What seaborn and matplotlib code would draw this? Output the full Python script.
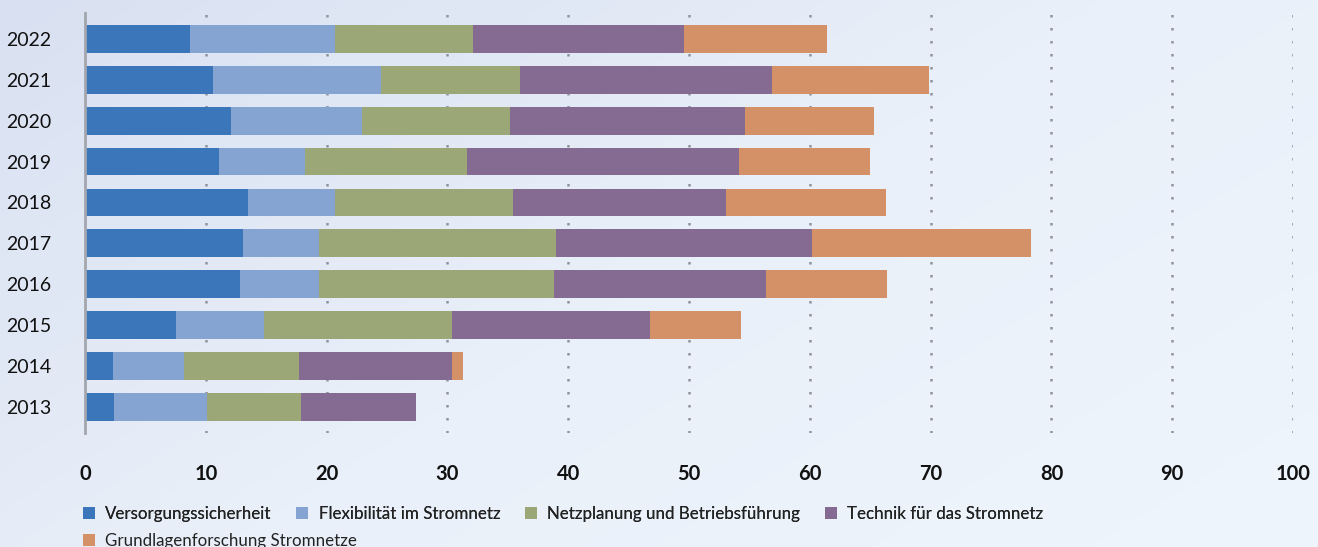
import numpy as np
import pandas as pd
import matplotlib
matplotlib.use("Agg")
import matplotlib.pyplot as plt
import seaborn as sns
from matplotlib.colors import LinearSegmentedColormap
from matplotlib.patches import Patch

years = ["2022", "2021", "2020", "2019", "2018", "2017", "2016", "2015", "2014", "2013"]
series_names = ["Versorgungssicherheit", "Flexibilität im Stromnetz",
                "Netzplanung und Betriebsführung", "Technik für das Stromnetz",
                "Grundlagenforschung Stromnetze"]
versorgung   = [8.7, 10.6, 12.1, 11.1, 13.5, 13.1, 12.8, 7.5, 2.3, 2.4]
flexibilitaet = [12.0, 13.9, 10.8, 7.1, 7.2, 6.3, 6.6, 7.3, 5.9, 7.7]
netzplanung  = [11.4, 11.5, 12.3, 13.4, 14.7, 19.6, 19.4, 15.6, 9.5, 7.8]
technik      = [17.5, 20.9, 19.4, 22.5, 17.7, 21.2, 17.6, 16.4, 12.7, 9.5]
grundlagen   = [11.8, 13.0, 10.7, 10.9, 13.2, 18.1, 10.0, 7.5, 0.9, 0.0]
colors = ["#3b76ba", "#86a4d2", "#9ba776", "#856a91", "#d49066"]
x_ticks = [0, 10, 20, 30, 40, 50, 60, 70, 80, 90, 100]

sns.set_theme(style="white")
plt.rcParams['font.family'] = ['Lato', 'DejaVu Sans']

W, H = 1318, 547
fig = plt.figure(figsize=(W / 100, H / 100), dpi=100)

# gradient background
bg = fig.add_axes([0, 0, 1, 1], zorder=-10)
yy, xx = np.mgrid[0:1:200j, 0:1:400j]
grad = (xx * 0.6 + yy * 0.4)
cmap = LinearSegmentedColormap.from_list("bg", ["#d9e0f1", "#e9f0f9", "#eef5fc"])
bg.imshow(grad, cmap=cmap, aspect="auto", extent=[0, 1, 0, 1], origin="upper")
bg.axis("off")

ax = fig.add_axes([85 / W, 1 - 433 / H, (1293 - 85) / W, (433 - 12.7) / H])
ax.patch.set_alpha(0)

df = pd.DataFrame({"Jahr": years})
series = [versorgung, flexibilitaet, netzplanung, technik, grundlagen]
cum = np.cumsum(np.array(series), axis=0)
for i in range(len(series) - 1, -1, -1):
    df["v"] = cum[i]
    sns.barplot(data=df, y="Jahr", x="v", order=years, orient="h",
                color=colors[i], saturation=1, width=0.68, ax=ax, zorder=3,
                edgecolor="none", linewidth=0)

ax.set_xlim(0, 100)
ax.set_ylim(9.64, -0.64)
ax.set_xticks(x_ticks)
ax.set_xticklabels([str(t) for t in x_ticks], fontsize=14.5, fontweight="bold", color="#111111")
ax.tick_params(axis="x", length=0, pad=22)
ax.tick_params(axis="y", length=0, pad=24, labelsize=14, labelcolor="#111111")
ax.set_xlabel("")
ax.set_ylabel("")
for s in ["top", "right", "bottom"]:
    ax.spines[s].set_visible(False)
ax.spines["left"].set_color("#a3a6ad")
ax.spines["left"].set_linewidth(2)
ax.spines["left"].set_zorder(4)
ax.grid(False)
for t in x_ticks[1:]:
    ax.axvline(t, color="#8f939d", linestyle=(0, (1, 4.2)), linewidth=1.8, zorder=1)

handles = [Patch(facecolor=c, edgecolor="none") for c in colors]
leg1 = fig.legend(handles[:4], series_names[:4], loc="upper left",
                  bbox_to_anchor=(76 / W, 1 - 499 / H), ncol=4, frameon=False,
                  fontsize=12.2, handlelength=0.72, handleheight=0.72,
                  handletextpad=0.6, columnspacing=1.45, borderaxespad=0,
                  labelcolor="#222222")
leg2 = fig.legend(handles[4:], series_names[4:], loc="upper left",
                  bbox_to_anchor=(76 / W, 1 - 526 / H), ncol=1, frameon=False,
                  fontsize=12.2, handlelength=0.72, handleheight=0.72,
                  handletextpad=0.6, borderaxespad=0, labelcolor="#222222")
fig.add_artist(leg1)

fig.savefig("out.png", dpi=100)
